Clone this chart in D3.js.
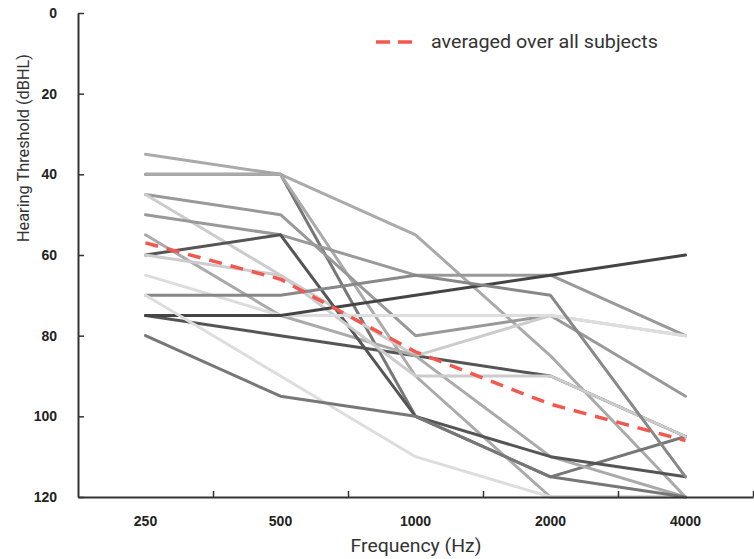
<!DOCTYPE html>
<html>
<head>
<meta charset="utf-8">
<script src="https://cdn.jsdelivr.net/npm/d3@7"></script>
<style>
  body { margin: 0; background: #fff; }
  svg { display: block; font-family: Roboto, "Noto Sans", sans-serif; }
</style>
</head>
<body>
<svg id="chart" width="754" height="559"></svg>
<script>
// frequencies on the x axis
const freqs = ["250", "500", "1000", "2000", "4000"];
const yTicks = [0, 20, 40, 60, 80, 100, 120];

// hearing thresholds (dBHL) per subject, one value per frequency
const subjects = [
  [75, 80, 85, 90, 105],
  [35, 40, 55, 85, 120],
  [40, 40, 100, 115, 105],
  [40, 40, 90, 120, 120],
  [45, 50, 80, 75, 95],
  [45, 65, 85, 75, 80],
  [50, 55, 65, 65, 80],
  [55, 75, 85, 110, 120],
  [60, 55, 100, 110, 115],
  [60, 65, 90, 90, 105],
  [65, 75, 75, 75, 80],
  [75, 75, 70, 65, 60],
  [70, 70, 65, 70, 115],
  [70, 90, 110, 120, 120],
  [80, 95, 100, 115, 120]
];
const subjectGreys = ["#555", "#aaa", "#777", "#aaa", "#999", "#ccc", "#999", "#aaa",
  "#555", "#ccc", "#ddd", "#444", "#888", "#ddd", "#777"];

// averaged over all subjects
const average = [57, 66, 84, 97, 106];

const svg = d3.select("#chart");
const plotLeft = 78, plotRight = 753, plotTop = 13, plotBottom = 497;

const x = d3.scaleBand().domain(freqs).range([plotLeft, plotRight]);
const y = d3.scaleLinear().domain([0, 120]).range([plotTop, plotBottom]);

const line = d3.line()
  .x((d, i) => x(freqs[i]) + x.bandwidth() / 2)
  .y(d => y(d));

// subject lines
svg.append("g")
  .selectAll("path")
  .data(subjects)
  .join("path")
  .attr("d", line)
  .attr("fill", "none")
  .attr("stroke", (d, i) => subjectGreys[i])
  .attr("stroke-width", 3)
  .attr("stroke-linejoin", "round")
  .attr("stroke-linecap", "round");

// average line
svg.append("path")
  .datum(average)
  .attr("d", line)
  .attr("fill", "none")
  .attr("stroke", "#f2584e")
  .attr("stroke-width", 3.5)
  .attr("stroke-dasharray", "13,9");

// y axis
svg.append("g")
  .attr("transform", `translate(${plotLeft},0)`)
  .call(d3.axisLeft(y).tickValues(yTicks).tickSize(-6).tickPadding(21).tickSizeOuter(0));

// x axis: labels at band centres, tick marks at band edges
svg.append("g")
  .attr("transform", `translate(0,${plotBottom})`)
  .call(d3.axisBottom(x).tickSize(0).tickPadding(19));

const edges = d3.scaleLinear().domain([0, freqs.length]).range([plotLeft, plotRight]);
svg.append("g")
  .attr("transform", `translate(0,${plotBottom})`)
  .call(d3.axisBottom(edges).tickValues(d3.range(1, freqs.length + 1)).tickSize(-6).tickFormat(""))
  .select(".domain").remove();

svg.selectAll(".domain").attr("stroke", "#333").attr("stroke-width", 2);
svg.selectAll(".tick line").attr("stroke", "#333").attr("stroke-width", 1.5);
svg.selectAll(".tick text")
  .attr("font-size", 14)
  .attr("font-weight", "bold")
  .attr("fill", "#222");

// axis titles (narrow face, so squeeze to the measured width)
svg.append("text")
  .attr("x", 416)
  .attr("y", 552)
  .attr("text-anchor", "middle")
  .attr("font-size", 19)
  .attr("textLength", 131)
  .attr("lengthAdjust", "spacingAndGlyphs")
  .attr("fill", "#333")
  .text("Frequency (Hz)");

svg.append("text")
  .attr("transform", "translate(29,148) rotate(-90)")
  .attr("text-anchor", "middle")
  .attr("font-size", 17)
  .attr("textLength", 188)
  .attr("lengthAdjust", "spacingAndGlyphs")
  .attr("fill", "#333")
  .text("Hearing Threshold (dBHL)");

// legend
const legend = svg.append("g").attr("transform", "translate(376,42)");
legend.append("line")
  .attr("x1", 0).attr("x2", 40)
  .attr("stroke", "#f2584e")
  .attr("stroke-width", 3.5)
  .attr("stroke-dasharray", "14,8");
legend.append("text")
  .attr("x", 55)
  .attr("y", 6)
  .attr("font-size", 19)
  .attr("textLength", 227)
  .attr("lengthAdjust", "spacingAndGlyphs")
  .attr("fill", "#333")
  .text("averaged over all subjects");
</script>
</body>
</html>
